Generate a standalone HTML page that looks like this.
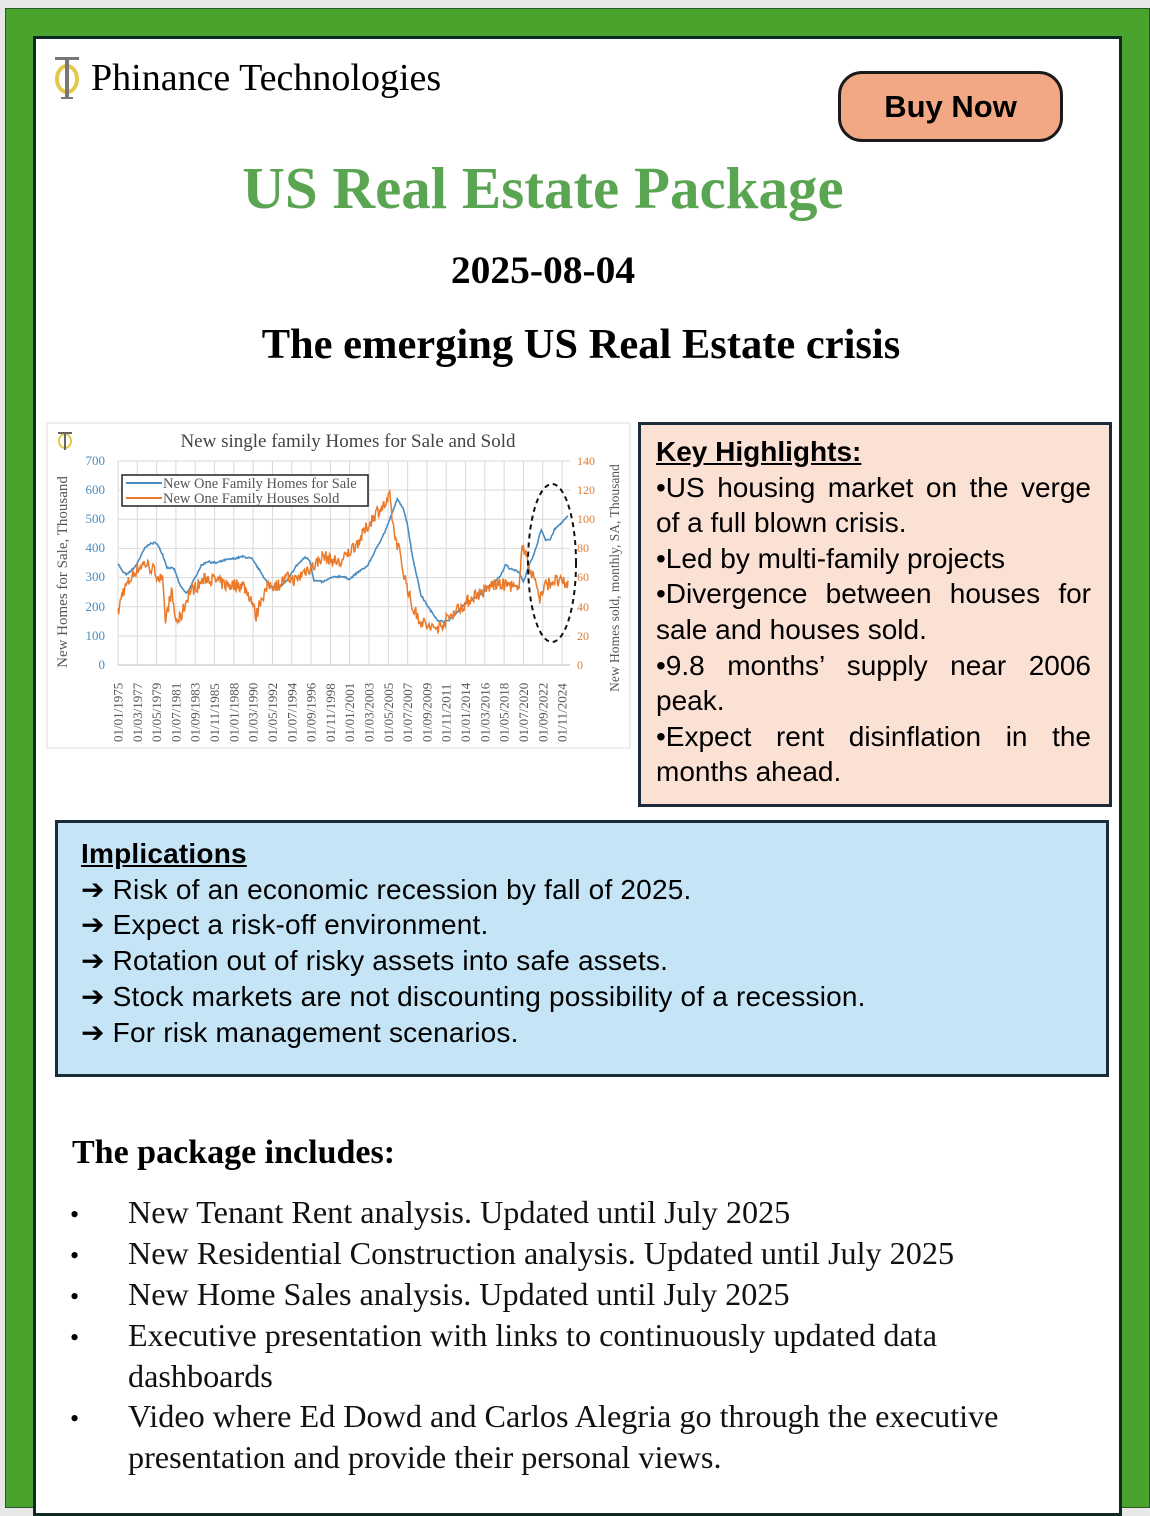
<!DOCTYPE html>
<html><head><meta charset="utf-8">
<style>
*{margin:0;padding:0;box-sizing:border-box}
body{width:1150px;height:1495px;background:#e8e8e8;position:relative;overflow:hidden;font-family:"Liberation Serif",serif}
.green{position:absolute;left:5px;top:8px;width:1145px;height:1500px;background:#4aa32d;border:1px solid #2a5a2a}
.inner{position:absolute;left:33px;top:36px;width:1089px;height:1480px;background:#fff;border:3px solid #0e2a22}
.abs{position:absolute;white-space:nowrap}
.btn{position:absolute;left:838px;top:71px;width:225px;height:71px;background:#f2a884;border:3px solid #1a1a1a;border-radius:24px;font-family:"Liberation Sans",sans-serif;font-weight:bold;font-size:31px;text-align:center;line-height:65px}
.kh{position:absolute;left:638px;top:422px;width:474px;height:385px;background:#fbe0d4;border:3px solid #1c2b3a;padding:9px 18px 0 15px;font-family:"Liberation Sans",sans-serif;font-size:28px;line-height:35.6px}
.kh div{white-space:nowrap}
.kh .j{text-align:justify;text-align-last:justify;white-space:normal}
.imp{position:absolute;left:55px;top:820px;width:1054px;height:257px;background:#c5e4f6;border:3px solid #1c2b3a;padding:13px 0 0 23px;font-family:"Liberation Sans",sans-serif;font-size:28px;line-height:35.7px;letter-spacing:0.2px}
.li{position:absolute;left:128px;font-size:32.2px;white-space:nowrap;color:#111}
.bu{position:absolute;left:70px;font-size:26px}
</style></head><body>
<div class="green"></div>
<div class="inner"></div>
<svg class="abs" style="left:52px;top:54px" width="30" height="48" viewBox="0 0 30 48">
<ellipse cx="15" cy="25" rx="10" ry="13" fill="none" stroke="#e2c94a" stroke-width="4"/>
<rect x="3" y="3" width="24" height="3" fill="#777"/><rect x="13" y="3" width="4" height="42" fill="#777"/><rect x="9" y="43" width="12" height="2" fill="#777"/>
</svg>
<div class="abs" style="left:91px;top:56px;font-size:38px;font-family:'Liberation Serif',serif">Phinance Technologies</div>
<div class="btn">Buy Now</div>
<div class="abs" style="left:0;width:1086px;text-align:center;top:154px;font-size:59px;font-weight:bold;color:#5aa552">US Real Estate Package</div>
<div class="abs" style="left:0;width:1086px;text-align:center;top:247px;font-size:39.5px;font-weight:bold">2025-08-04</div>
<div class="abs" style="left:0;width:1162px;text-align:center;top:320px;font-size:42.5px;font-weight:bold">The emerging US Real Estate crisis</div>

<svg class="abs" style="left:46px;top:422px" width="586" height="328" viewBox="46 422 586 328" font-family="Liberation Serif, serif">
<rect x="47" y="423" width="583" height="325" fill="#fff" stroke="#ddd"/>
<g id="grid" stroke="#d9d9d9" stroke-width="1"></g>
<text x="348" y="447" text-anchor="middle" font-size="19" fill="#444">New single family Homes for Sale and Sold</text>
<g fill="#4a8cc0" font-size="13" text-anchor="end">
<text x="105" y="465">700</text><text x="105" y="494">600</text><text x="105" y="523">500</text><text x="105" y="552">400</text><text x="105" y="581">300</text><text x="105" y="611">200</text><text x="105" y="640">100</text><text x="105" y="669">0</text></g>
<g fill="#e07a30" font-size="12">
<text x="577" y="465">140</text><text x="577" y="494">120</text><text x="577" y="523">100</text><text x="577" y="552">80</text><text x="577" y="581">60</text><text x="577" y="611">40</text><text x="577" y="640">20</text><text x="577" y="669">0</text></g>
<text transform="translate(67,572) rotate(-90)" text-anchor="middle" font-size="15" fill="#555">New Homes for Sale, Thousand</text>
<text transform="translate(619,578) rotate(-90)" text-anchor="middle" font-size="13.5" fill="#555">New Homes sold, monthly, SA, Thousand</text>
<g id="xl" font-size="13" fill="#555"></g>
<polyline id="blue" fill="none" stroke="#4a8cc0" stroke-width="1.6"/>
<polyline id="orange" fill="none" stroke="#ea7a2a" stroke-width="1.5"/>
<rect x="122" y="475" width="246" height="31" fill="#fff" stroke="#222" stroke-width="1.5"/>
<line x1="126" y1="483" x2="162" y2="483" stroke="#4a8cc0" stroke-width="2"/>
<line x1="126" y1="498" x2="162" y2="498" stroke="#ea7a2a" stroke-width="2"/>
<text x="163" y="488" font-size="14.5" fill="#555">New One Family Homes for Sale</text>
<text x="163" y="503" font-size="14.5" fill="#555">New One Family Houses Sold</text>
<ellipse cx="552" cy="563" rx="24" ry="79" fill="none" stroke="#111" stroke-width="2" stroke-dasharray="5,4"/>
<ellipse cx="65" cy="441" rx="6" ry="7" fill="none" stroke="#e2c94a" stroke-width="2"/>
<rect x="58" y="432" width="14" height="2" fill="#666"/><rect x="64" y="432" width="2" height="18" fill="#666"/>
</svg>
<script>
(function(){
var X0=118,X1=568,Y0=665,S=204/700;
function x(y){return X0+(y-1975)*(X1-X0)/50.5}
function yy(v){return Y0-v*S}
var g=document.getElementById('grid'),s='';
s+='<line x1="118" y1="665" x2="570" y2="665" stroke="#bbb"/>';
for(var v=100;v<=700;v+=100)s+='<line x1="118" y1="'+yy(v)+'" x2="570" y2="'+yy(v)+'"/>';
var xl='';
for(var i=0;i<24;i++){var yr=1975+i*2.1667;var px=x(yr);s+='<line x1="'+px+'" y1="461" x2="'+px+'" y2="665"/>';
var yi=Math.floor(yr+0.001),m=Math.round((yr-yi)*12)+1;var lab='01/'+(m<10?'0':'')+m+'/'+yi;
xl+='<text transform="translate('+(px+4.5)+',742) rotate(-90)">'+lab+'</text>';}
g.innerHTML=s;document.getElementById('xl').innerHTML=xl;
var B=[[1975,350],[1975.5,320],[1976,310],[1977,340],[1978,400],[1978.5,415],[1979.3,420],[1980,380],[1980.5,335],[1981.3,330],[1982,270],[1982.7,245],[1983.5,290],[1984.3,340],[1985,355],[1986,350],[1987,360],[1988,365],[1989,372],[1990,365],[1991,320],[1992,270],[1993,265],[1994,290],[1995,340],[1996,370],[1996.5,360],[1997,290],[1998,285],[1999,300],[2000,305],[2001,295],[2002,320],[2003,340],[2004,400],[2005,460],[2006,540],[2006.3,570],[2007,540],[2007.5,480],[2008,380],[2009,240],[2010,190],[2011,150],[2012,150],[2013,180],[2014,210],[2015,230],[2016,250],[2017,280],[2018,310],[2018.5,345],[2019,330],[2020,320],[2020.5,285],[2021,330],[2021.8,390],[2022.5,465],[2023,430],[2023.5,430],[2024,465],[2025.5,510]];
var O=[[1975,35],[1975.5,50],[1976,55],[1977,65],[1978,70],[1979,65],[1980,57],[1980.3,30],[1981,50],[1981.5,30],[1982,32],[1983,50],[1984,55],[1985,60],[1986,58],[1987,55],[1988,55],[1989,55],[1990,45],[1990.5,33],[1991,45],[1992,55],[1993,55],[1994,60],[1995,58],[1996,65],[1997,68],[1998,75],[1999,72],[2000,70],[2001,78],[2002,85],[2003,95],[2004,105],[2005,110],[2005.5,115],[2006,90],[2006.5,80],[2007,65],[2008,40],[2009,30],[2009.5,28],[2010,25],[2011,26],[2012,32],[2013,38],[2014,42],[2015,48],[2016,50],[2017,55],[2018,55],[2019,55],[2020,50],[2020.3,85],[2021,70],[2022,55],[2022.3,45],[2023,55],[2024,58],[2025.5,55]];
function interp(a,t){for(var i=0;i<a.length-1;i++)if(t<=a[i+1][0]){var f=(t-a[i][0])/(a[i+1][0]-a[i][0]);return a[i][1]+f*(a[i+1][1]-a[i][1]);}return a[a.length-1][1];}
var seed=7;function rnd(){seed=(seed*16807)%2147483647;return seed/2147483647-0.5;}
var pb='',po='';
for(var t=1975;t<=2025.5;t+=1/12){pb+=x(t).toFixed(1)+','+yy(interp(B,t)+rnd()*6).toFixed(1)+' ';
var ov=interp(O,t)+rnd()*9;po+=x(t).toFixed(1)+','+yy(ov*5).toFixed(1)+' ';}
document.getElementById('blue').setAttribute('points',pb);
document.getElementById('orange').setAttribute('points',po);
})();
</script>

<div class="kh"><div><b><u>Key Highlights:</u></b></div>
<div class="j">•US housing market on the verge</div>
<div>of a full blown crisis.</div>
<div>•Led by multi-family projects</div>
<div class="j">•Divergence between houses for</div>
<div>sale and houses sold.</div>
<div class="j">•9.8 months’ supply near 2006</div>
<div>peak.</div>
<div class="j">•Expect rent disinflation in the</div>
<div>months ahead.</div></div>

<div class="imp"><b><u>Implications</u></b><br>➔ Risk of an economic recession by fall of 2025.<br>➔ Expect a risk-off environment.<br>➔ Rotation out of risky assets into safe assets.<br>➔ Stock markets are not discounting possibility of a recession.<br>➔ For risk management scenarios.</div>

<div class="abs" style="left:72px;top:1134px;font-size:34px;font-weight:bold">The package includes:</div>
<div class="bu" style="top:1200px">•</div><div class="li" style="top:1194px">New Tenant Rent analysis. Updated until July 2025</div>
<div class="bu" style="top:1241px">•</div><div class="li" style="top:1235px">New Residential Construction analysis. Updated until July 2025</div>
<div class="bu" style="top:1282px">•</div><div class="li" style="top:1276px">New Home Sales analysis. Updated until July 2025</div>
<div class="bu" style="top:1323px">•</div><div class="li" style="top:1317px">Executive presentation with links to continuously updated data</div>
<div class="li" style="top:1358px">dashboards</div>
<div class="bu" style="top:1404px">•</div><div class="li" style="top:1398px">Video where Ed Dowd and Carlos Alegria go through the executive</div>
<div class="li" style="top:1439px">presentation and provide their personal views.</div>
</body></html>
